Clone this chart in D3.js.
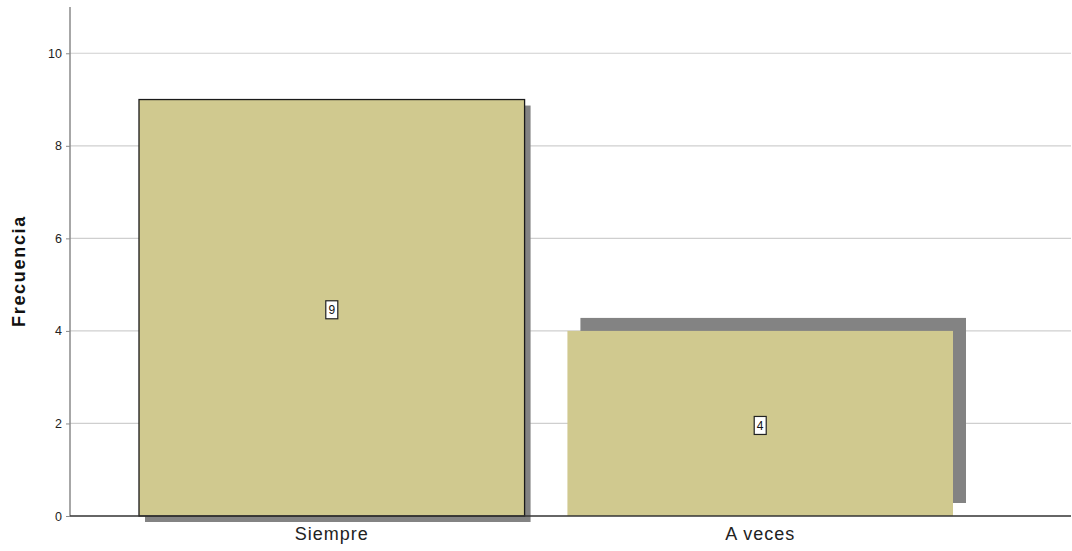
<!DOCTYPE html>
<html>
<head>
<meta charset="utf-8">
<script src="https://cdn.jsdelivr.net/npm/d3@7"></script>
<style>
  html, body { margin: 0; padding: 0; background: #fff; }
  svg { display: block; font-family: "Liberation Sans", Arial, sans-serif; }
</style>
</head>
<body>
<svg id="chart" width="1072" height="551"></svg>
<script>
// Response categories and their counts
const categories = ["Siempre", "A veces"];
const counts = [9, 4];
const yTicks = [0, 2, 4, 6, 8, 10];
// Drop-shadow offsets per bar (dx, dy)
const shadowDx = [6, 13];
const shadowDy = [6, -13];
const outlined = [true, false];

const svg = d3.select("#chart");
const plotLeft = 70, plotRight = 1071, plotTop = 7, plotBottom = 516;

const y = d3.scaleLinear().domain([0, 11]).range([plotBottom, plotTop]);
const x = d3.scaleBand().domain(categories).range([139, 953]).paddingInner(0.1).paddingOuter(0);

// Horizontal gridlines
svg.append("g").selectAll("line").data(yTicks.filter(d => d > 0)).join("line")
  .attr("x1", plotLeft).attr("x2", plotRight)
  .attr("y1", d => y(d)).attr("y2", d => y(d))
  .attr("stroke", "#cfcfcf").attr("stroke-width", 1.2);

const data = categories.map((c, i) => ({ c, v: counts[i], dx: shadowDx[i], dy: shadowDy[i], outline: outlined[i] }));

// Shadows
svg.append("g").selectAll("rect").data(data).join("rect")
  .attr("x", d => x(d.c) + d.dx)
  .attr("y", d => y(d.v) + d.dy)
  .attr("width", x.bandwidth())
  .attr("height", d => plotBottom - y(d.v))
  .attr("fill", "#838383");

// Bars
svg.append("g").selectAll("rect").data(data).join("rect")
  .attr("x", d => x(d.c))
  .attr("y", d => y(d.v))
  .attr("width", x.bandwidth())
  .attr("height", d => plotBottom - y(d.v))
  .attr("fill", "#d0c98f")
  .attr("stroke", d => d.outline ? "#1a1a1a" : "none")
  .attr("stroke-width", 1.3);

// Y axis
const yAxis = svg.append("g").attr("transform", `translate(${plotLeft},0)`)
  .call(d3.axisLeft(y).tickValues(yTicks).tickSize(4).tickPadding(4));
yAxis.select(".domain").attr("d", `M0,${plotTop}V${plotBottom}`).attr("stroke", "#8a8a8a").attr("stroke-width", 1.5);
yAxis.selectAll(".tick line").attr("stroke", "#8a8a8a");
yAxis.selectAll(".tick text").attr("font-size", 12.5).attr("fill", "#222")
  .attr("font-family", "\"Liberation Sans\", Arial, sans-serif");

// X axis
const xAxis = svg.append("g").attr("transform", `translate(0,${plotBottom})`)
  .call(d3.axisBottom(x).tickSize(0).tickPadding(11));
xAxis.select(".domain").attr("d", `M${plotLeft},0H${plotRight}`).attr("stroke", "#333").attr("stroke-width", 1.3);
xAxis.selectAll(".tick text").attr("font-size", 18).attr("fill", "#222")
  .attr("letter-spacing", "1px")
  .attr("font-family", "\"Liberation Sans\", Arial, sans-serif");

// Y axis title
svg.append("text")
  .attr("transform", `translate(25,271) rotate(-90)`)
  .attr("text-anchor", "middle")
  .attr("font-size", 18).attr("font-weight", "bold").attr("fill", "#111")
  .attr("letter-spacing", "1.7px")
  .text("Frecuencia");

// Value labels in boxes at bar centres
const lbl = svg.append("g").selectAll("g").data(data).join("g")
  .attr("transform", d => `translate(${x(d.c) + x.bandwidth() / 2},${(y(d.v) + plotBottom) / 2 + 2})`);
lbl.append("rect")
  .attr("x", -6).attr("y", -9).attr("width", 12).attr("height", 18)
  .attr("fill", "#fff").attr("stroke", "#222").attr("stroke-width", 1.2);
lbl.append("text")
  .attr("text-anchor", "middle").attr("dy", "0.36em")
  .attr("font-size", 12).attr("fill", "#111")
  .text(d => d.v);
</script>
</body>
</html>
